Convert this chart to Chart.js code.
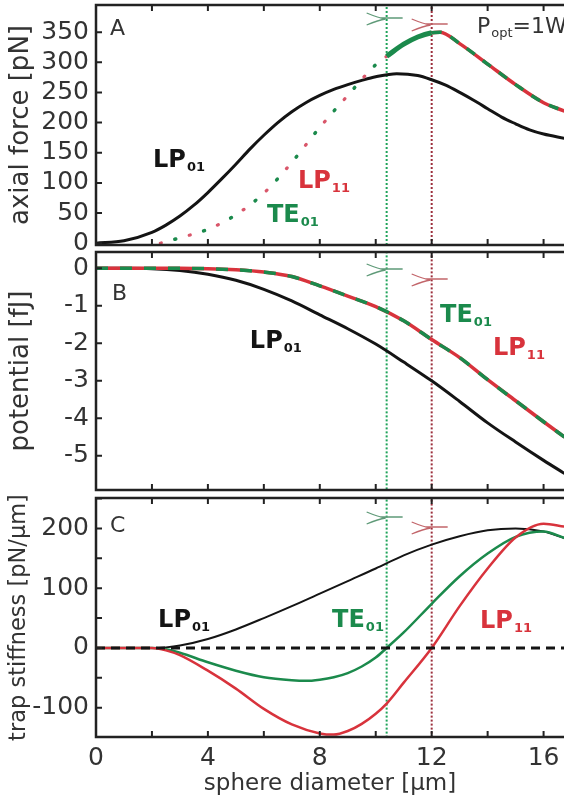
<!DOCTYPE html>
<html>
<head>
<meta charset="utf-8">
<script src="https://cdn.jsdelivr.net/npm/chart.js@4.4.1/dist/chart.umd.min.js"></script>
<style>
  html, body { margin: 0; padding: 0; background: #fff; }
  #wrap { position: relative; width: 564px; height: 800px; overflow: hidden; }
  #wrap canvas { position: absolute; left: 0; }
</style>
</head>
<body>
<div id="wrap">
  <canvas id="chartA" width="564" height="262" style="top:0px"></canvas>
  <canvas id="chartB" width="564" height="262" style="top:240px"></canvas>
  <canvas id="chartC" width="564" height="315" style="top:485px"></canvas>
</div>
<script>
// sphere diameter axis [µm]
const diamMax = 16.73;
const diamTicks = [0, 4, 8, 12, 16];
const teCut = 10.39;   // TE01 cutoff diameter
const lpCut = 12;      // LP11 cutoff diameter

// A: axial force [pN]
const forceTicks = [0, 50, 100, 150, 200, 250, 300, 350];
const dA = [0, 1, 2, 2.5, 3, 3.5, 4, 4.5, 5, 5.5, 6, 6.5, 7, 7.5, 8, 8.5, 9, 9.5, 10, 10.75,
            11.5, 12, 12.5, 13, 13.5, 14, 14.5, 15, 15.5, 16, 16.75];
const forceLP01 = [0, 4, 18, 30, 45, 63, 84, 107, 131, 156, 179, 200, 218, 233, 245, 255, 263, 270, 276, 281,
                   278, 271, 262, 250, 237, 223, 209, 198, 188, 181, 174];
const dUnstable = [2.3, 3, 4, 5, 6, 7, 8, 9, 10, 10.39, 11, 11.5, 12];
const forceUnstable = [0, 9, 23, 47, 83, 134, 192, 245, 296, 310, 330, 342, 349];
const dStable = [10.39, 11, 11.5, 12, 12.3, 13, 14, 15, 16, 16.75];
const forceStable = [310, 330, 342, 349, 350, 331, 297, 263, 233, 219];

// B: potential [fJ]
const potTicks = [0, -1, -2, -3, -4, -5];
const dB = [0, 1, 2, 3, 4, 5, 6, 7, 8, 9, 10, 11, 12, 13, 14, 15, 16, 16.75];
const potLP01 = [0, 0, -0.01, -0.06, -0.16, -0.32, -0.56, -0.87, -1.24, -1.61, -2.02, -2.5, -3.0, -3.55, -4.12, -4.63, -5.12, -5.47];
const potHigher = [0, 0, 0, 0, -0.01, -0.04, -0.1, -0.22, -0.47, -0.74, -1.02, -1.4, -1.9, -2.38, -2.97, -3.53, -4.09, -4.5];

// C: trap stiffness [pN/µm]
const stiffTicks = [-100, 0, 100, 200];
const dLP01C = [0, 1, 2, 2.5, 3, 4, 5, 6, 7, 8, 9, 10, 11, 12, 13, 14, 15, 16, 16.75];
const kLP01 = [0, 0, 0, 1, 4, 15, 31, 50, 70, 91, 112, 133, 155, 173, 187, 197, 200, 195, 184];
const dTE01C = [0, 1, 2, 2.5, 3, 4, 5, 6, 7, 7.5, 8, 8.5, 9, 9.5, 10, 10.39, 11, 12, 13, 14, 15, 16, 16.75];
const kTE01 = [0, 0, 0, -2, -8, -24, -38, -49, -54, -55, -53, -49, -42, -31, -16, 0, 26, 74, 120, 158, 186, 195, 184];
const dLP11C = [0, 1, 2, 2.5, 3, 4, 5, 6, 7, 8, 8.5, 9, 9.5, 10, 10.39, 11, 12, 13, 14, 15, 16, 16.75];
const kLP11 = [0, 0, 0, -4, -12, -38, -68, -102, -128, -143, -145, -139, -127, -110, -93, -58, 0, 70, 133, 185, 208, 203];
const zeroX = [0, 16.75];
const zeroY = [0, 0];

const GREEN = '#1b8a4c';
const RED = '#d8333c';
const BLACK = '#141414';
const FONT = "'DejaVu Sans', 'Liberation Sans', sans-serif";

function pts(xs, ys) {
  return xs.map((x, i) => ({ x: x, y: ys[i] }));
}

function curve(xs, ys, color, width, order, extra) {
  return Object.assign({
    data: pts(xs, ys), showLine: true, borderColor: color, borderWidth: width,
    pointRadius: 0, fill: false, order: order, cubicInterpolationMode: 'monotone'
  }, extra || {});
}

function cutLine(x, lo, hi, color) {
  return { data: [{ x: x, y: lo }, { x: x, y: hi }], showLine: true, borderColor: color,
    borderWidth: 2, borderDash: [2, 2], pointRadius: 0, order: 20 };
}

// frame, inward ticks, fiber sketches and text labels
const decor = {
  id: 'decor',
  afterDatasetsDraw(chart, args, o) {
    const ctx = chart.ctx, a = chart.chartArea, x = chart.scales.x, y = chart.scales.y;
    ctx.save();
    ctx.strokeStyle = '#222';
    ctx.lineWidth = 2;
    ctx.beginPath();
    for (let v = 2; v <= x.max; v += 2) {
      const px = x.getPixelForValue(v);
      ctx.moveTo(px, a.top); ctx.lineTo(px, a.top + 6);
      ctx.moveTo(px, a.bottom); ctx.lineTo(px, a.bottom - 6);
    }
    for (let v = Math.ceil(y.min / o.yStep) * o.yStep; v <= y.max; v += o.yStep) {
      const py = y.getPixelForValue(v);
      ctx.moveTo(a.left, py); ctx.lineTo(a.left + 6, py);
    }
    ctx.stroke();

    ctx.lineWidth = 2.5;
    ctx.beginPath();
    ctx.moveTo(a.right + 2, a.top); ctx.lineTo(a.left, a.top);
    ctx.lineTo(a.left, a.bottom); ctx.lineTo(a.right + 2, a.bottom);
    ctx.stroke();

    // little fiber-end sketches at the cutoffs
    [[teCut, '#5f9a78', o.markDy[0]], [lpCut, '#c2656a', o.markDy[1]]].forEach(function (m) {
      const px = x.getPixelForValue(m[0]), py = a.top + m[2];
      ctx.strokeStyle = m[1];
      ctx.lineWidth = 1.3;
      ctx.beginPath();
      ctx.moveTo(px - 20, py - 6); ctx.quadraticCurveTo(px - 8, py - 1, px - 1, py);
      ctx.moveTo(px - 20, py + 6); ctx.quadraticCurveTo(px - 8, py + 1, px - 1, py);
      ctx.moveTo(px - 6, py - 1); ctx.lineTo(px + 16, py - 1);
      ctx.stroke();
    });

    o.labels.forEach(function (l) {
      const px = x.getPixelForValue(l.x), py = y.getPixelForValue(l.y);
      const w = l.bold ? 'bold ' : '';
      const size = l.size || 24;
      ctx.fillStyle = l.color;
      ctx.textAlign = 'left';
      ctx.textBaseline = 'alphabetic';
      ctx.font = w + size + 'px ' + FONT;
      ctx.fillText(l.t, px, py);
      let cx = px + ctx.measureText(l.t).width;
      if (l.s) {
        ctx.font = w + '13px ' + FONT;
        ctx.fillText(l.s, cx + 1, py + 4);
        cx += ctx.measureText(l.s).width + 1;
      }
      if (l.tail) {
        ctx.font = w + size + 'px ' + FONT;
        ctx.fillText(l.tail, cx, py);
      }
    });
    ctx.restore();
  }
};

function panel(id, c) {
  return new Chart(document.getElementById(id), {
    type: 'scatter',
    data: { datasets: c.datasets },
    options: {
      responsive: false,
      animation: false,
      layout: { padding: c.padding },
      plugins: { legend: { display: false }, tooltip: { enabled: false }, decor: c.decor },
      scales: {
        x: {
          type: 'linear', min: 0, max: diamMax, display: c.showX,
          afterBuildTicks: s => { s.ticks = diamTicks.map(v => ({ value: v })); },
          afterFit: s => { s.height = c.showX ? 63 : 0; s.paddingLeft = 0; s.paddingRight = 0; },
          grid: { display: false, drawTicks: false },
          border: { display: false },
          ticks: { font: { family: FONT, size: 25 }, color: '#333', padding: 6, maxRotation: 0, autoSkip: false },
          title: { display: true, text: 'sphere diameter [µm]', font: { family: FONT, size: 23 }, color: '#333', padding: { top: 0, bottom: 2 } }
        },
        y: {
          type: 'linear', min: c.yMin, max: c.yMax,
          afterBuildTicks: s => { s.ticks = c.yTicks.map(v => ({ value: v })); },
          afterFit: s => { s.width = 96; s.paddingTop = 0; s.paddingBottom = 0; },
          grid: { display: false, drawTicks: false },
          border: { display: false },
          ticks: { font: { family: FONT, size: 25 }, color: '#333', padding: 7, autoSkip: false },
          title: { display: true, text: c.yTitle, font: { family: FONT, size: c.titleSize }, color: '#333', padding: { top: 6, bottom: 0 } }
        }
      }
    },
    plugins: [decor]
  });
}

panel('chartA', {
  padding: { top: 5, bottom: 17, left: 0, right: 0 },
  showX: false, yMin: -3, yMax: 395, yTicks: forceTicks, yTitle: 'axial force [pN]', titleSize: 26,
  datasets: [
    curve(dStable, forceStable, GREEN, 4, 1, {
      segment: {
        borderDash: ctx => ctx.p0.parsed.x >= lpCut - 1e-6 ? [10, 10] : undefined,
        borderWidth: ctx => ctx.p0.parsed.x >= lpCut - 1e-6 ? 3.5 : 5
      }
    }),
    curve(dStable.slice(3), forceStable.slice(3), RED, 3.5, 2),
    curve(dUnstable.slice(0, 10), forceUnstable.slice(0, 10), GREEN, 3.5, 3, { borderDash: [1, 29], borderDashOffset: 15, borderCapStyle: 'round' }),
    curve(dUnstable, forceUnstable, '#d9566a', 3.2, 4, { borderDash: [1, 29], borderCapStyle: 'round' }),
    curve(dA, forceLP01, BLACK, 3, 5),
    cutLine(teCut, -3, 395, '#1fa35a'),
    cutLine(lpCut, -3, 395, '#9c2f3c')
  ],
  decor: {
    yStep: 50, markDy: [14, 20],
    labels: [
      { t: 'A', x: 0.5, y: 345, color: '#333', size: 22 },
      { t: 'P', s: 'opt', tail: '=1W', x: 13.62, y: 349, color: '#333', size: 22 },
      { t: 'LP', s: '01', x: 2.04, y: 126, color: BLACK, bold: true },
      { t: 'LP', s: '11', x: 7.22, y: 91, color: RED, bold: true },
      { t: 'TE', s: '01', x: 6.11, y: 35, color: GREEN, bold: true }
    ]
  }
});

panel('chartB', {
  padding: { top: 12, bottom: 12, left: 0, right: 0 },
  showX: false, yMin: -5.91, yMax: 0.435, yTicks: potTicks, yTitle: 'potential [fJ]', titleSize: 26,
  datasets: [
    curve(dB, potHigher, GREEN, 3.5, 1, { borderDash: [12, 12] }),
    curve(dB, potHigher, RED, 3.5, 2),
    curve(dB, potLP01, BLACK, 3, 3),
    cutLine(teCut, -6, 0.5, '#1fa35a'),
    cutLine(lpCut, -6, 0.5, '#9c2f3c')
  ],
  decor: {
    yStep: 1, markDy: [18, 28],
    labels: [
      { t: 'B', x: 0.57, y: -0.85, color: '#333', size: 22 },
      { t: 'LP', s: '01', x: 5.5, y: -2.13, color: BLACK, bold: true },
      { t: 'TE', s: '01', x: 12.3, y: -1.43, color: GREEN, bold: true },
      { t: 'LP', s: '11', x: 14.19, y: -2.31, color: RED, bold: true }
    ]
  }
});

panel('chartC', {
  padding: { top: 13, bottom: 0, left: 0, right: 0 },
  showX: true, yMin: -149, yMax: 251, yTicks: stiffTicks, yTitle: 'trap stiffness [pN/µm]', titleSize: 22.5,
  datasets: [
    curve(zeroX, zeroY, BLACK, 3, 1, { borderDash: [9, 6] }),
    curve(dLP11C, kLP11, RED, 2.5, 2),
    curve(dTE01C, kTE01, GREEN, 2.5, 3),
    curve(dLP01C, kLP01, BLACK, 2, 4),
    cutLine(teCut, -150, 260, '#1fa35a'),
    cutLine(lpCut, -150, 260, '#9c2f3c')
  ],
  decor: {
    yStep: 50, markDy: [20, 30],
    labels: [
      { t: 'C', x: 0.5, y: 194, color: '#333', size: 22 },
      { t: 'LP', s: '01', x: 2.22, y: 35, color: BLACK, bold: true },
      { t: 'TE', s: '01', x: 8.44, y: 35, color: GREEN, bold: true },
      { t: 'LP', s: '11', x: 13.73, y: 33, color: RED, bold: true }
    ]
  }
});
</script>
</body>
</html>
